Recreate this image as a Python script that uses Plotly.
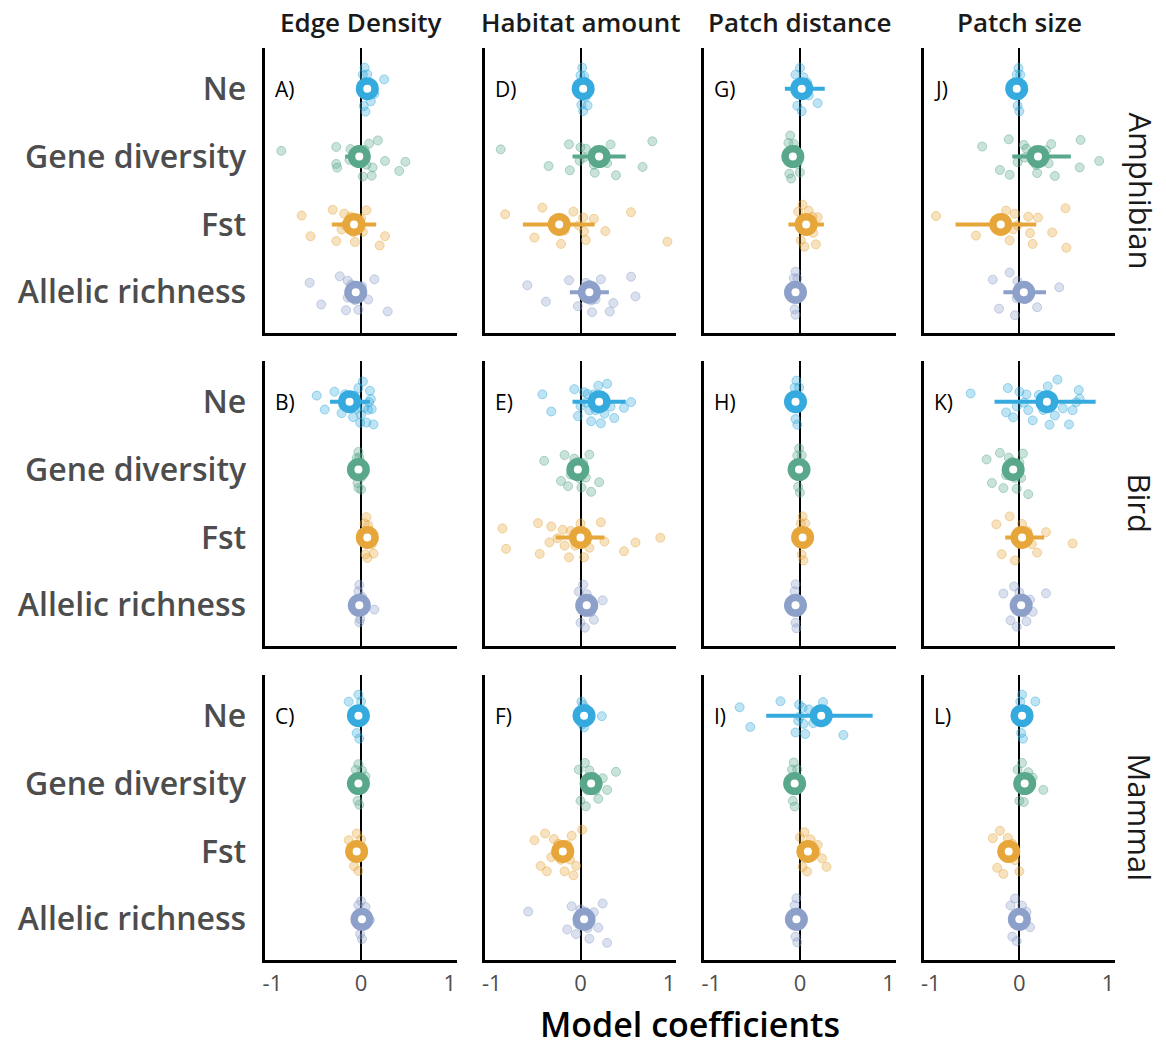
import plotly.graph_objects as go

# ---------------- data ----------------
categories = ["Ne", "Gene diversity", "Fst", "Allelic richness"]
rows = ["Amphibian", "Bird", "Mammal"]
cols = ["Edge Density", "Habitat amount", "Patch distance", "Patch size"]
panel_letters = [["A)", "D)", "G)", "J)"], ["B)", "E)", "H)", "K)"], ["C)", "F)", "I)", "L)"]]
x_ticks = [-1, 0, 1]

# per panel: points [Ne, Gene diversity, Fst, Allelic richness], estimate, lower, upper
pts_A = [[0.05, 0.08, 0.03, 0.26, 0.15, 0.06, 0.10, 0.02, 0.12, 0.07, 0.04, 0.09, 0.11],
         [-0.90, -0.12, 0.02, 0.13, 0.50, -0.27, -0.28, -0.28, -0.04, 0.09, 0.27, 0.43, 0.04, 0.19, -0.13, 0.06, 0.12, -0.03, 0.00],
         [-0.67, -0.19, -0.18, -0.07, 0.21, -0.32, 0.02, -0.57, -0.09, 0.06, 0.27, -0.22, -0.28, 0.00, -0.12],
         [-0.24, -0.15, -0.58, -0.45, 0.30, 0.15, -0.11, -0.17, -0.07, -0.03, 0.08, 0.01, -0.11, -0.15]]
est_A = [0.07, -0.02, -0.08, -0.06]
lo_A = [0.03, -0.18, -0.33, -0.10]
hi_A = [0.11, 0.10, 0.17, -0.02]

pts_D = [[0.03, 0.05, 0.01, 0.08, 0.02, 0.04, 0.06, 0.00, 0.03, 0.05],
         [-0.90, -0.36, -0.13, -0.12, 0.00, 0.04, 0.15, 0.16, 0.23, 0.34, 0.70, 0.81, 0.40, 0.30, 0.06, -0.01],
         [-0.85, -0.52, -0.43, -0.08, -0.02, 0.04, 0.06, 0.15, 0.28, 0.57, 0.98, -0.18, -0.22, 0.03],
         [-0.60, -0.39, -0.13, -0.03, 0.06, 0.23, 0.33, 0.37, 0.57, 0.62, 0.12, 0.17, 0.08, 0.15, 0.04, 0.10, 0.13]]
est_D = [0.03, 0.21, -0.24, 0.10]
lo_D = [-0.01, -0.09, -0.65, -0.12]
hi_D = [0.07, 0.51, 0.16, 0.32]

pts_G = [[0.00, 0.03, 0.06, 0.20, -0.05, 0.08, 0.10, 0.02, -0.03, 0.04],
         [-0.12, -0.10, -0.05, -0.03, -0.13, -0.07, 0.00, -0.09, -0.11, -0.06],
         [0.10, 0.15, 0.20, 0.05, -0.02, 0.18, 0.12, 0.08, 0.03, 0.14, 0.01],
         [-0.05, -0.04, -0.02, -0.06, -0.03, -0.07, -0.05]]
est_G = [0.02, -0.08, 0.07, -0.05]
lo_G = [-0.17, -0.12, -0.13, -0.09]
hi_G = [0.28, -0.04, 0.27, -0.01]

pts_J = [[-0.02, 0.00, 0.01, -0.03, -0.01, 0.00, 0.02],
         [-0.42, -0.22, -0.12, -0.11, -0.02, 0.06, 0.08, 0.20, 0.30, 0.36, 0.40, 0.68, 0.69, 0.90, 0.19, 0.33, 0.05],
         [-0.94, -0.49, -0.15, -0.11, -0.07, 0.10, 0.12, 0.15, 0.21, 0.37, 0.52, 0.53, -0.05, -0.02],
         [-0.30, -0.23, -0.11, -0.05, 0.06, 0.20, 0.45, 0.06, -0.03, 0.00, -0.02]]
est_J = [-0.03, 0.21, -0.21, 0.05]
lo_J = [-0.07, -0.08, -0.72, -0.18]
hi_J = [0.01, 0.58, 0.19, 0.30]

pts_B = [[-0.50, -0.41, -0.15, -0.11, 0.00, 0.08, 0.12, -0.22, -0.03, 0.04, -0.18, -0.07, -0.01, 0.10, 0.14, 0.06, -0.13, -0.20, -0.05, 0.02, 0.09, -0.30, -0.09, 0.11],
         [-0.03, -0.01, 0.00, -0.04, -0.02, -0.05, -0.01, -0.03, 0.00, -0.02],
         [0.05, 0.08, 0.10, 0.14, 0.06, 0.07, 0.09, 0.12, 0.04, 0.08],
         [-0.02, 0.00, 0.02, 0.15, -0.01, -0.03, 0.01, 0.03, -0.02]]
est_B = [-0.13, -0.03, 0.07, -0.02]
lo_B = [-0.35, -0.06, 0.04, -0.05]
hi_B = [0.10, 0.00, 0.10, 0.01]

pts_E = [[-0.33, -0.43, -0.07, 0.00, 0.08, 0.12, 0.15, 0.23, 0.30, 0.38, 0.49, 0.57, 0.17, 0.06, -0.03, 0.27, 0.04, 0.10, 0.20, 0.34],
         [-0.41, -0.18, -0.14, -0.11, -0.03, 0.06, 0.10, 0.12, 0.21, -0.22, -0.07, 0.01, -0.05, 0.03, -0.01],
         [-0.84, -0.88, -0.48, -0.46, -0.35, -0.26, -0.20, -0.13, -0.11, 0.00, 0.04, 0.23, 0.27, 0.49, 0.62, 0.90, -0.33, -0.18, -0.06, 0.10],
         [0.00, 0.05, 0.10, 0.25, 0.07, 0.03, 0.12, 0.08, 0.15, -0.02, 0.06]]
est_E = [0.21, -0.03, 0.00, 0.07]
lo_E = [-0.09, -0.06, -0.28, 0.03]
hi_E = [0.51, 0.00, 0.27, 0.11]

pts_H = [[-0.05, -0.03, -0.01, -0.06, 0.00, -0.04, -0.02],
         [-0.01, 0.01, -0.02, 0.00, -0.03, 0.02],
         [0.03, 0.05, 0.01, 0.04, 0.02, 0.06],
         [-0.05, -0.04, -0.06, -0.03, -0.05]]
est_H = [-0.05, -0.01, 0.03, -0.05]
lo_H = [-0.08, -0.04, 0.00, -0.08]
hi_H = [-0.02, 0.02, 0.06, -0.02]

pts_K = [[-0.55, -0.13, -0.07, -0.03, 0.08, 0.27, 0.34, 0.43, 0.49, 0.56, 0.64, 0.67, -0.15, 0.00, 0.10, 0.15, 0.32, 0.68, 0.40, 0.22, 0.05, 0.60],
         [-0.37, -0.31, -0.22, -0.15, -0.11, -0.03, 0.02, 0.10, -0.08, -0.18, 0.00, -0.05, -0.12, 0.04],
         [-0.26, -0.20, -0.11, 0.00, 0.14, 0.30, 0.60, 0.06, 0.09, 0.20, -0.05, 0.03],
         [-0.18, -0.10, -0.03, 0.05, 0.12, 0.30, 0.00, 0.08, -0.06, 0.02, 0.15, -0.01, 0.04]]
est_K = [0.31, -0.07, 0.03, 0.02]
lo_K = [-0.28, -0.10, -0.16, -0.02]
hi_K = [0.86, -0.04, 0.28, 0.06]

pts_C = [[-0.03, -0.01, -0.14, 0.00, -0.05, -0.02],
         [-0.03, 0.00, 0.05, -0.06, -0.02, 0.02, -0.04, 0.01],
         [-0.05, -0.02, -0.14, -0.08, 0.01, -0.03, 0.00],
         [0.01, 0.03, 0.10, -0.03, 0.00, 0.05, -0.01]]
est_C = [-0.03, -0.03, -0.05, 0.01]
lo_C = [-0.06, -0.06, -0.08, -0.02]
hi_C = [0.00, 0.00, -0.02, 0.04]

pts_F = [[0.04, 0.02, 0.06, 0.24, 0.03, 0.05, 0.01],
         [0.00, 0.05, 0.08, 0.15, 0.20, 0.30, 0.40, 0.12, -0.02, 0.10, 0.17, 0.06, 0.25],
         [-0.52, -0.45, -0.38, -0.30, -0.25, -0.18, -0.12, -0.05, 0.02, -0.33, -0.22, -0.15, -0.08, -0.28, -0.10, -0.40],
         [-0.59, -0.15, -0.10, 0.15, 0.30, 0.05, 0.00, 0.08, -0.03, 0.20, 0.10, -0.05, 0.25, 0.02]]
est_F = [0.04, 0.12, -0.20, 0.04]
lo_F = [0.01, 0.09, -0.23, 0.01]
hi_F = [0.07, 0.15, -0.17, 0.07]

pts_I = [[-0.68, -0.56, -0.22, -0.05, -0.01, 0.06, 0.26, 0.49, 0.03, 0.10, 0.15, -0.02, 0.00, 0.04],
         [-0.06, -0.04, -0.09, -0.03, -0.08, -0.02, -0.07],
         [0.00, 0.05, 0.10, 0.18, 0.25, 0.30, 0.12, 0.03, 0.20, 0.08],
         [-0.04, -0.02, -0.05, -0.03, -0.06]]
est_I = [0.24, -0.06, 0.09, -0.04]
lo_I = [-0.38, -0.09, 0.06, -0.07]
hi_I = [0.82, -0.03, 0.12, -0.01]

pts_L = [[0.03, 0.01, 0.05, 0.18, 0.02, 0.04],
         [0.00, 0.05, 0.10, 0.27, 0.15, 0.03, -0.02, 0.08, 0.12],
         [-0.30, -0.25, -0.18, -0.10, -0.05, 0.00, -0.15, -0.22, -0.08, -0.13],
         [-0.10, -0.05, 0.00, 0.05, 0.12, -0.03, 0.03, 0.08, -0.08]]
est_L = [0.03, 0.06, -0.12, 0.00]
lo_L = [0.00, 0.03, -0.15, -0.03]
hi_L = [0.06, 0.09, -0.09, 0.03]

panels = [[(pts_A, est_A, lo_A, hi_A), (pts_D, est_D, lo_D, hi_D), (pts_G, est_G, lo_G, hi_G), (pts_J, est_J, lo_J, hi_J)],
          [(pts_B, est_B, lo_B, hi_B), (pts_E, est_E, lo_E, hi_E), (pts_H, est_H, lo_H, hi_H), (pts_K, est_K, lo_K, hi_K)],
          [(pts_C, est_C, lo_C, hi_C), (pts_F, est_F, lo_F, hi_F), (pts_I, est_I, lo_I, hi_I), (pts_L, est_L, lo_L, hi_L)]]

# ---------------- styling ----------------
colors = {"Ne": (52, 170, 222), "Gene diversity": (90, 168, 140),
          "Fst": (230, 166, 58), "Allelic richness": (140, 160, 202)}
W, H = 1166, 1048
col_px = [(263, 455), (483, 675), (703, 895), (923, 1115)]
row_px = [(48, 333), (361, 646), (675, 960)]
FONT = "Open Sans"


def rgba(c, a):
    return f"rgba({c[0]},{c[1]},{c[2]},{a})"


fig = go.Figure()
box_traces, mean_traces, dot_traces = [], [], []
layout = {}
annotations = []

for r in range(3):
    for c in range(4):
        k = r * 4 + c
        xa = "x" if k == 0 else f"x{k + 1}"
        ya = "y" if k == 0 else f"y{k + 1}"
        pts, est, lo, hi = panels[r][c]
        for i, cat in enumerate(categories):
            col = colors[cat]
            box_traces.append(go.Box(
                x=pts[i], y=[cat] * len(pts[i]), orientation="h",
                boxpoints="all", jitter=1, pointpos=0, width=0.8,
                fillcolor="rgba(0,0,0,0)", line=dict(width=0, color="rgba(0,0,0,0)"),
                whiskerwidth=0,
                marker=dict(size=9, color=rgba(col, 0.32), line=dict(width=1, color=rgba(col, 0.45))),
                showlegend=False, hoverinfo="x", xaxis=xa, yaxis=ya))
            mean_traces.append(go.Scatter(
                x=[est[i]], y=[cat], mode="markers",
                marker=dict(size=23, color=rgba(col, 1)),
                error_x=dict(type="data", symmetric=False, array=[hi[i] - est[i]],
                             arrayminus=[est[i] - lo[i]], color=rgba(col, 1), thickness=4, width=0),
                showlegend=False, xaxis=xa, yaxis=ya))
            dot_traces.append(go.Scatter(
                x=[est[i]], y=[cat], mode="markers",
                marker=dict(size=8, color="white"), hoverinfo="skip",
                showlegend=False, xaxis=xa, yaxis=ya))

        x0, x1 = col_px[c]
        y0, y1 = row_px[r]
        layout["xaxis" if k == 0 else f"xaxis{k + 1}"] = dict(
            domain=[x0 / W, x1 / W], anchor=ya, range=[-1.08, 1.08],
            tickvals=x_ticks, ticktext=[str(v) for v in x_ticks],
            showticklabels=(r == 2), ticks="", showgrid=False,
            zeroline=True, zerolinecolor="black", zerolinewidth=1.5,
            showline=True, linecolor="black", linewidth=2.5, ticklabelstandoff=2,
            tickfont=dict(family=FONT, size=22, color="#4d4d4d"),
            fixedrange=True)
        layout["yaxis" if k == 0 else f"yaxis{k + 1}"] = dict(
            domain=[1 - y1 / H, 1 - y0 / H], anchor=xa, type="category",
            categoryorder="array", categoryarray=categories[::-1],
            range=[-0.6, 3.6], showticklabels=(c == 0), ticks="",
            showgrid=False, zeroline=False, showline=True,
            linecolor="black", linewidth=2.5, ticklabelstandoff=10,
            tickfont=dict(family=FONT, size=32, color="#4d4d4d", weight=600),
            fixedrange=True)
        annotations.append(dict(text=panel_letters[r][c], x=-0.99, y=3, xref=xa, yref=ya,
                                xanchor="left", yanchor="middle", showarrow=False,
                                font=dict(family=FONT, size=21, color="black")))

for c, name in enumerate(cols):
    x0, x1 = col_px[c]
    annotations.append(dict(text=name, x=(x0 + x1) / 2 / W, y=1 - 22 / H, xref="paper", yref="paper",
                            xanchor="center", yanchor="middle", showarrow=False,
                            font=dict(family=FONT, size=26, color="#1a1a1a", weight=600)))
for r, name in enumerate(rows):
    y0, y1 = row_px[r]
    annotations.append(dict(text=name, x=1140 / W, y=1 - (y0 + y1) / 2 / H, xref="paper", yref="paper",
                            xanchor="center", yanchor="middle", showarrow=False, textangle=90,
                            font=dict(family=FONT, size=31, color="#1a1a1a")))
annotations.append(dict(text="Model coefficients", x=689 / W, y=0, xref="paper", yref="paper",
                        xanchor="center", yanchor="bottom", showarrow=False, borderpad=0,
                        font=dict(family=FONT, size=34, color="black", weight=600)))

for t in box_traces + mean_traces + dot_traces:
    fig.add_trace(t)

fig.update_layout(width=W, height=H, margin=dict(l=0, r=0, t=0, b=0),
                  plot_bgcolor="white", paper_bgcolor="white",
                  showlegend=False, annotations=annotations, **layout)

fig.write_html("out.html")
